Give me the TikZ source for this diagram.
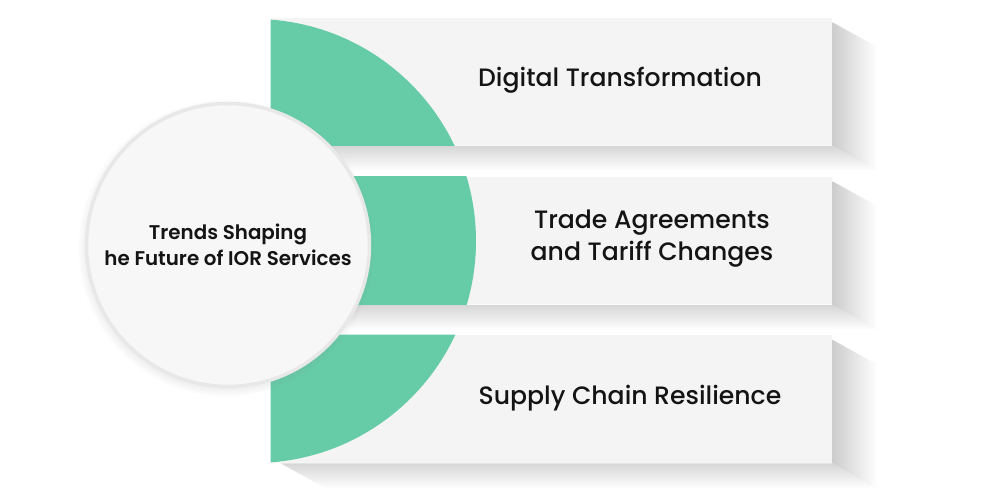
\documentclass[tikz,border=0pt]{standalone}
\usepackage{fontspec}
\setmainfont{Poppins Medium}
\newfontfamily\hubfont{Poppins SemiBold}
\usepackage{tikz}
\usetikzlibrary{positioning,calc,shadows,backgrounds}
\definecolor{trendgreen}{HTML}{66CCA8}
\definecolor{barfill}{HTML}{F4F4F4}

\begin{document}
\begin{tikzpicture}[x=0.02cm, y=-0.02cm,
  trendbar/.style={fill=barfill, minimum width=11.22cm, minimum height=2.56cm, inner sep=0pt},
  trend/.style={font=\fontsize{14.3}{18.1}\selectfont, text=black!92, align=center},
  hub/.style={circle, fill=black!3, draw=black!9, line width=0.07cm, minimum size=5.66cm,
    font=\hubfont\fontsize{11.3}{14.7}\selectfont, align=center, text=black!92,
    circular drop shadow={shadow xshift=-1pt, shadow yshift=-1.5pt, shadow scale=1.05, opacity=0.3}}
]
\useasboundingbox (0,0) rectangle (985,498);

\node[trendbar] (bar1) at (551.5,81.5) {};
\node[trendbar] (bar2) at (551.5,240.5) {};
\node[trendbar] (bar3) at (551.5,399) {};

% long shadows behind the bars
\begin{scope}[on background layer]
  \fill[white] (0,0) rectangle (985,498);
  \foreach \b in {bar1,bar2,bar3} {
    \shade[left color=black!20, right color=white]
      ($(\b.north east)+(0,5)$) -- ++(45,25) -- ($(\b.south east)+(45,25)$) -- (\b.south east) -- cycle;
    \shade[top color=black!16, bottom color=white]
      ($(\b.south west)+(10,0)$) -- (\b.south east) -- ++(45,25) -- ($(\b.south west)+(55,25)$) -- cycle;
  }
\end{scope}

% green disc, seen only on the bars
\begin{scope}
  \clip (bar1.north west) rectangle (bar1.south east)
        (bar2.north west) rectangle (bar2.south east)
        (bar3.north west) rectangle (bar3.south east);
  \fill[trendgreen] (254,241) circle[radius=222];
\end{scope}

\node[trend] (t1) at (620,80) {Digital Transformation};
\node[trend] (t2) at (652,239) {Trade Agreements\\and Tariff Changes};
\node[trend] (t3) at (630,398) {Supply Chain Resilience};

\node[hub] (hub) at (228,245) {Trends Shaping\\he Future of IOR Services};
\end{tikzpicture}
\end{document}
